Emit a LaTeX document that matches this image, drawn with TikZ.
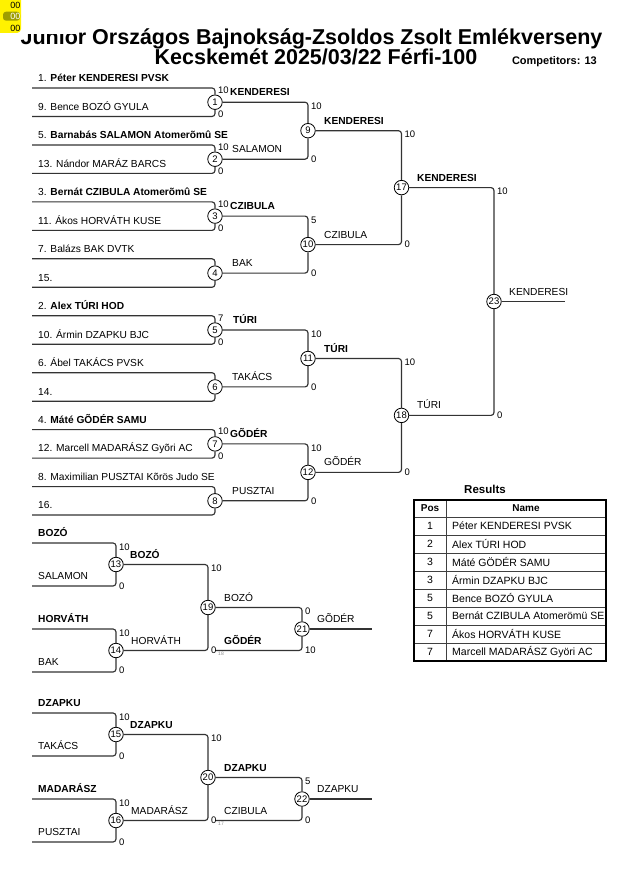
\documentclass[tikz,border=0pt]{standalone}
\usepackage{fontspec}
\setmainfont{Liberation Sans}
\definecolor{olivehl}{RGB}{158,158,0}
\begin{document}
\begin{tikzpicture}[x=1pt,y=-1pt,
  ln/.style={draw=black!80, line width=1.15pt, rounded corners=3pt},
  mc/.style={circle, draw=black, fill=white, line width=0.8pt, minimum size=14.5pt, inner sep=0pt, font=\fontsize{9.5}{10}\selectfont},
  nm/.style={anchor=base west, inner sep=0pt, font=\fontsize{10.2}{12}\selectfont},
  nmb/.style={anchor=base west, inner sep=0pt, font=\fontsize{10.2}{12}\selectfont\bfseries},
  sc/.style={anchor=west, inner sep=0pt, font=\fontsize{9.5}{10}\selectfont},
  tiny/.style={anchor=center, inner sep=0pt, text=black!45, font=\fontsize{5}{6}\selectfont},
  tb/.style={inner sep=0pt, font=\fontsize{10.5}{12}\selectfont},
  tbh/.style={inner sep=0pt, font=\fontsize{10}{12}\selectfont\bfseries},
  ]
\useasboundingbox[fill=white] (0,0) rectangle (630,891);

% ---------- title ----------
\node[anchor=base, inner sep=0pt, font=\fontsize{21.5}{24}\selectfont\bfseries] (t1) at (311.5,44.5) {Junior Országos Bajnokság-Zsoldos Zsolt Emlékverseny};
\node[anchor=base, inner sep=0pt, font=\fontsize{21.5}{24}\selectfont\bfseries] (t2) at (316,65) {Kecskemét 2025/03/22 Férfi-100};
\node[anchor=base east, inner sep=0pt, font=\fontsize{11}{12}\selectfont\bfseries] (comp) at (597,64) {Competitors: 13};
% cover over the top of "Junior" and the yellow widget
\fill[white] (19,0) rectangle (76,34);
\fill[yellow, rounded corners=4pt] (-6,-6) rectangle (21,33);
\fill[olivehl, rounded corners=3pt] (3,11.7) rectangle (20,20.7);
\node[inner sep=0pt, font=\fontsize{9}{10}\selectfont] (y1) at (15.3,5) {00};
\node[inner sep=0pt, text=white, font=\fontsize{9}{10}\selectfont] (y2) at (15.3,16.2) {00};
\node[inner sep=0pt, font=\fontsize{9}{10}\selectfont] (y3) at (15.3,28.3) {00};

% ---------- main bracket: start points ----------
\coordinate (s0) at (32,88);
\coordinate (s1) at (32,116.5);
\coordinate (s2) at (32,145);
\coordinate (s3) at (32,173.4);
\coordinate (s4) at (32,201.9);
\coordinate (s5) at (32,230.4);
\coordinate (s6) at (32,258.8);
\coordinate (s7) at (32,287.3);
\coordinate (s8) at (32,315.8);
\coordinate (s9) at (32,344.2);
\coordinate (s10) at (32,372.7);
\coordinate (s11) at (32,401.2);
\coordinate (s12) at (32,429.6);
\coordinate (s13) at (32,458.1);
\coordinate (s14) at (32,486.6);
\coordinate (s15) at (32,515);

% match circles
\node[mc] (c1) at (215,102.2) {1};
\node[mc] (c2) at (215,159.2) {2};
\node[mc] (c3) at (215,216.1) {3};
\node[mc] (c4) at (215,273.1) {4};
\node[mc] (c5) at (215,330) {5};
\node[mc] (c6) at (215,386.9) {6};
\node[mc] (c7) at (215,443.9) {7};
\node[mc] (c8) at (215,500.8) {8};
\node[mc] (c9) at (308,130.7) {9};
\node[mc] (c10) at (308,244.6) {10};
\node[mc] (c11) at (308,358.5) {11};
\node[mc] (c12) at (308,472.4) {12};
\node[mc] (c17) at (401.5,187.6) {17};
\node[mc] (c18) at (401.5,415.4) {18};
\node[mc] (c23) at (494,301.5) {23};
\coordinate (e23) at (565,301.5);

% connectors
\draw[ln] (s0) -| (c1);  \draw[ln] (s1) -| (c1);
\draw[ln] (s2) -| (c2);  \draw[ln] (s3) -| (c2);
\draw[ln] (s4) -| (c3);  \draw[ln] (s5) -| (c3);
\draw[ln] (s6) -| (c4);  \draw[ln] (s7) -| (c4);
\draw[ln] (s8) -| (c5);  \draw[ln] (s9) -| (c5);
\draw[ln] (s10) -| (c6); \draw[ln] (s11) -| (c6);
\draw[ln] (s12) -| (c7); \draw[ln] (s13) -| (c7);
\draw[ln] (s14) -| (c8); \draw[ln] (s15) -| (c8);
\draw[ln] (c1) -| (c9);  \draw[ln] (c2) -| (c9);
\draw[ln] (c3) -| (c10); \draw[ln] (c4) -| (c10);
\draw[ln] (c5) -| (c11); \draw[ln] (c6) -| (c11);
\draw[ln] (c7) -| (c12); \draw[ln] (c8) -| (c12);
\draw[ln] (c9) -| (c17); \draw[ln] (c10) -| (c17);
\draw[ln] (c11) -| (c18); \draw[ln] (c12) -| (c18);
\draw[ln] (c17) -| (c23); \draw[ln] (c18) -| (c23);
\draw[ln] (c23) -- (e23);

% competitor names
\node[nm] (n0) at (38,81.8) {1. \textbf{Péter KENDERESI PVSK}};
\node[nm] (n1) at (38,110.3) {9. Bence BOZÓ GYULA};
\node[nm] (n2) at (38,138.8) {5. \textbf{Barnabás SALAMON Atomerõmû SE}};
\node[nm] (n3) at (38,167.2) {13. Nándor MARÁZ BARCS};
\node[nm] (n4) at (38,195.7) {3. \textbf{Bernát CZIBULA Atomerõmû SE}};
\node[nm] (n5) at (38,224.2) {11. Ákos HORVÁTH KUSE};
\node[nm] (n6) at (38,252.6) {7. Balázs BAK DVTK};
\node[nm] (n7) at (38,281.1) {15.};
\node[nm] (n8) at (38,309.6) {2. \textbf{Alex TÚRI HOD}};
\node[nm] (n9) at (38,338) {10. Ármin DZAPKU BJC};
\node[nm] (n10) at (38,366.5) {6. Ábel TAKÁCS PVSK};
\node[nm] (n11) at (38,395) {14.};
\node[nm] (n12) at (38,423.4) {4. \textbf{Máté GÕDÉR SAMU}};
\node[nm] (n13) at (38,451.9) {12. Marcell MADARÁSZ Gyõri AC};
\node[nm] (n14) at (38,480.4) {8. Maximilian PUSZTAI Kõrös Judo SE};
\node[nm] (n15) at (38,508.8) {16.};

% winner labels
\node[nmb] (w1) at (230,95.7) {KENDERESI};
\node[nm]  (w2) at (232,152.7) {SALAMON};
\node[nmb] (w3) at (230,209.6) {CZIBULA};
\node[nm]  (w4) at (232,266.6) {BAK};
\node[nmb] (w5) at (233,323.5) {TÚRI};
\node[nm]  (w6) at (232,380.4) {TAKÁCS};
\node[nmb] (w7) at (230,437.4) {GÕDÉR};
\node[nm]  (w8) at (232,494.3) {PUSZTAI};
\node[nmb] (w9) at (324,124.2) {KENDERESI};
\node[nm]  (w10) at (324,238.1) {CZIBULA};
\node[nmb] (w11) at (324,352) {TÚRI};
\node[nm]  (w12) at (324,465.9) {GÕDÉR};
\node[nmb] (w17) at (417,181.1) {KENDERESI};
\node[nm]  (w18) at (417,408.9) {TÚRI};
\node[nm]  (w23) at (509,295) {KENDERESI};

% scores
\node[sc] (p1a) at (218,90) {10};   \node[sc] (p1b) at (218,114.5) {0};
\node[sc] (p2a) at (218,147) {10};  \node[sc] (p2b) at (218,171.4) {0};
\node[sc] (p3a) at (218,203.9) {10}; \node[sc] (p3b) at (218,228.4) {0};
\node[sc] (p5a) at (218,317.8) {7};  \node[sc] (p5b) at (218,342.2) {0};
\node[sc] (p7a) at (218,431.6) {10}; \node[sc] (p7b) at (218,456.1) {0};
\node[sc] (p9a) at (311,106.2) {10}; \node[sc] (p9b) at (311,159.2) {0};
\node[sc] (p10a) at (311,220.1) {5}; \node[sc] (p10b) at (311,273.1) {0};
\node[sc] (p11a) at (311,334) {10};  \node[sc] (p11b) at (311,386.9) {0};
\node[sc] (p12a) at (311,447.9) {10}; \node[sc] (p12b) at (311,500.8) {0};
\node[sc] (p17a) at (404.5,134.7) {10}; \node[sc] (p17b) at (404.5,244.6) {0};
\node[sc] (p18a) at (404.5,362.5) {10}; \node[sc] (p18b) at (404.5,472.4) {0};
\node[sc] (p23a) at (497,191.6) {10}; \node[sc] (p23b) at (497,415.4) {0};

% ---------- repechage A ----------
\coordinate (r0) at (32,543);
\coordinate (r1) at (32,586);
\coordinate (r2) at (32,629);
\coordinate (r3) at (32,672);
\coordinate (g1) at (215,650.5);
\coordinate (e21) at (372,629);
\node[mc] (c13) at (116,564.5) {13};
\node[mc] (c14) at (116,650.5) {14};
\node[mc] (c19) at (208,607.5) {19};
\node[mc] (c21) at (302,629) {21};
\draw[ln] (r0) -| (c13); \draw[ln] (r1) -| (c13);
\draw[ln] (r2) -| (c14); \draw[ln] (r3) -| (c14);
\draw[ln] (c13) -| (c19); \draw[ln] (c14) -| (c19);
\draw[ln] (c19) -| (c21); \draw[ln] (g1) -| (c21);
\draw[ln] (c21) -- (e21);
\node[nmb] (ra0) at (38,536.7) {BOZÓ};
\node[nm]  (ra1) at (38,579.7) {SALAMON};
\node[nmb] (ra2) at (38,622.7) {HORVÁTH};
\node[nm]  (ra3) at (38,665.7) {BAK};
\node[nmb] (w13) at (130,558) {BOZÓ};
\node[nm]  (w14) at (131,644) {HORVÁTH};
\node[nm]  (w19) at (224,601) {BOZÓ};
\node[nmb] (wg1) at (224,644) {GÕDÉR};
\node[nm]  (w21) at (317,622.5) {GÕDÉR};
\node[sc] (p13a) at (119,547) {10};  \node[sc] (p13b) at (119,586) {0};
\node[sc] (p14a) at (119,633) {10};  \node[sc] (p14b) at (119,670) {0};
\node[sc] (p19a) at (211,568.5) {10}; \node[sc] (p19b) at (211,650.5) {0};
\node[sc] (p21a) at (305,611.5) {0}; \node[sc] (p21b) at (305,650.5) {10};
\node[tiny] (f18) at (221,654) {18};

% ---------- repechage B ----------
\coordinate (r4) at (32,713);
\coordinate (r5) at (32,756);
\coordinate (r6) at (32,799);
\coordinate (r7) at (32,842);
\coordinate (g2) at (215,820.5);
\coordinate (e22) at (372,799);
\node[mc] (c15) at (116,734.5) {15};
\node[mc] (c16) at (116,820.5) {16};
\node[mc] (c20) at (208,777.5) {20};
\node[mc] (c22) at (302,799) {22};
\draw[ln] (r4) -| (c15); \draw[ln] (r5) -| (c15);
\draw[ln] (r6) -| (c16); \draw[ln] (r7) -| (c16);
\draw[ln] (c15) -| (c20); \draw[ln] (c16) -| (c20);
\draw[ln] (c20) -| (c22); \draw[ln] (g2) -| (c22);
\draw[ln] (c22) -- (e22);
\node[nmb] (rb0) at (38,706.7) {DZAPKU};
\node[nm]  (rb1) at (38,749.7) {TAKÁCS};
\node[nmb] (rb2) at (38,792.7) {MADARÁSZ};
\node[nm]  (rb3) at (38,835.7) {PUSZTAI};
\node[nmb] (w15) at (130,728) {DZAPKU};
\node[nm]  (w16) at (131,814) {MADARÁSZ};
\node[nmb] (w20) at (224,771) {DZAPKU};
\node[nm]  (wg2) at (224,814) {CZIBULA};
\node[nm]  (w22) at (317,792.5) {DZAPKU};
\node[sc] (p15a) at (119,717) {10};  \node[sc] (p15b) at (119,756) {0};
\node[sc] (p16a) at (119,803) {10};  \node[sc] (p16b) at (119,842) {0};
\node[sc] (p20a) at (211,738.5) {10}; \node[sc] (p20b) at (211,820.5) {0};
\node[sc] (p22a) at (305,781.5) {5}; \node[sc] (p22b) at (305,820.5) {0};
\node[tiny] (f17) at (221,824) {17};

% ---------- results table ----------
\node[inner sep=0pt, font=\fontsize{11.5}{12}\selectfont\bfseries] (rt) at (485,489) {Results};
\begin{scope}
\clip (414,500) rectangle (606,661);
\node[tbh] (hp) at (430,508.5) {Pos};
\node[tbh] (hn) at (526,508.5) {Name};
\node[tb] (q1) at (430,526) {1}; \node[tb, anchor=west] (m1) at (452,526) {Péter KENDERESI PVSK};
\node[tb] (q2) at (430,544) {2}; \node[tb, anchor=west] (m2) at (452,544) {Alex TÚRI HOD};
\node[tb] (q3) at (430,562) {3}; \node[tb, anchor=west] (m3) at (452,562) {Máté GÖDÉR SAMU};
\node[tb] (q4) at (430,580) {3}; \node[tb, anchor=west] (m4) at (452,580) {Ármin DZAPKU BJC};
\node[tb] (q5) at (430,598) {5}; \node[tb, anchor=west] (m5) at (452,598) {Bence BOZÓ GYULA};
\node[tb] (q6) at (430,616) {5}; \node[tb, anchor=west] (m6) at (452,616) {Bernát CZIBULA Atomerömü SE};
\node[tb] (q7) at (430,634) {7}; \node[tb, anchor=west] (m7) at (452,634) {Ákos HORVÁTH KUSE};
\node[tb] (q8) at (430,652) {7}; \node[tb, anchor=west] (m8) at (452,652) {Marcell MADARÁSZ Györi AC};
\end{scope}
\draw[line width=0.6pt, black!75] (446,500) -- (446,661);
\foreach \yy in {517,535,553,571,589,607,625,643}
  \draw[line width=0.6pt, black!75] (414,\yy) -- (606,\yy);
\draw[line width=1.6pt] (414,500) rectangle (606,661);
\end{tikzpicture}
\end{document}
